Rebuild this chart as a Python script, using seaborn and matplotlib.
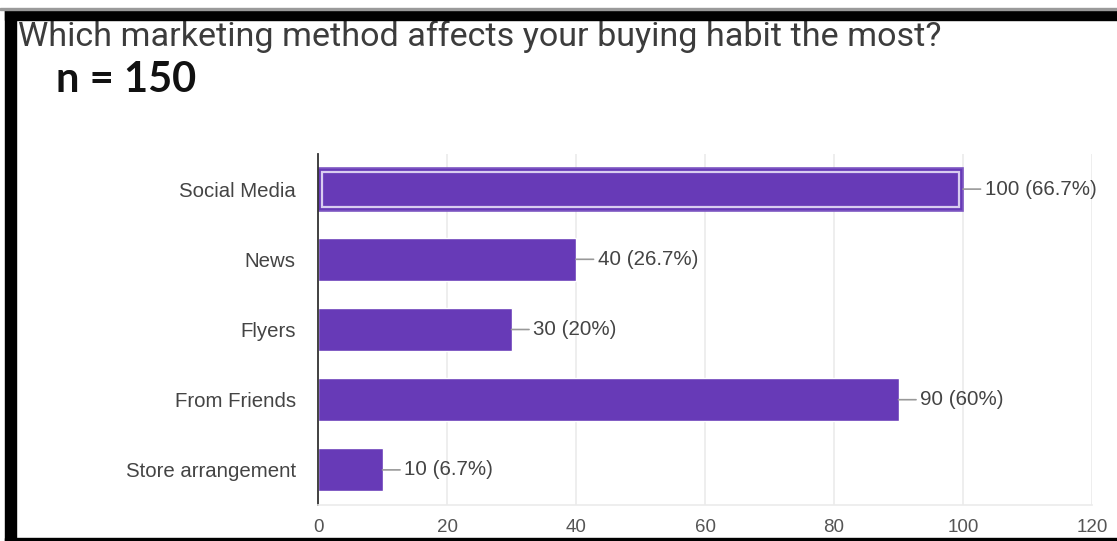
import matplotlib
matplotlib.use("Agg")
import matplotlib.pyplot as plt
import seaborn as sns
import pandas as pd
from matplotlib.patches import Rectangle

categories = ["Social Media", "News", "Flyers", "From Friends", "Store arrangement"]
counts = [100, 40, 30, 90, 10]
percent_labels = ["66.7%", "26.7%", "20%", "60%", "6.7%"]
x_ticks = [0, 20, 40, 60, 80, 100, 120]
title = "Which marketing method affects your buying habit the most?"
subtitle = "n = 150"

sns.set_theme(style="white")
plt.rcParams["font.family"] = ["Liberation Sans", "DejaVu Sans"]

df = pd.DataFrame({"method": categories, "count": counts})

fig = plt.figure(figsize=(11.17, 5.41), dpi=100)
ax = fig.add_axes([318 / 1117, 36 / 541, (1092 - 318) / 1117, (387 - 36) / 541])

sns.barplot(data=df, y="method", x="count", orient="h", color="#673ab7",
            saturation=1, width=0.61, ax=ax, order=categories)

# highlight outline on the first bar (hover state)
p0 = ax.patches[0]
p0.set_edgecolor("#7e57c2")
p0.set_linewidth(1.2)
bx, by = p0.get_x(), p0.get_y()
bw, bh = p0.get_width(), p0.get_height()
ax.add_patch(Rectangle((bx + bw * 0.006, by + bh * 0.09), bw * 0.988, bh * 0.82,
                       fill=False, edgecolor="#d8ccf0", linewidth=1.6, zorder=3))

ax.set_xlim(0, 120)
ax.set_ylim(len(categories) - 0.5, -0.5)
ax.set_xticks(x_ticks)
ax.set_xticklabels([str(t) for t in x_ticks])
ax.grid(axis="x", color="#ebebeb", linewidth=1.2)
ax.set_axisbelow(True)
ax.set_xlabel("")
ax.set_ylabel("")

for side in ["top", "right"]:
    ax.spines[side].set_visible(False)
ax.spines["bottom"].set_color("#ebebeb")
ax.spines["bottom"].set_linewidth(1.2)
ax.spines["left"].set_color("#333333")
ax.spines["left"].set_linewidth(1.3)

ax.tick_params(axis="y", length=0, pad=16, labelsize=14.7, labelcolor="#444444")
ax.tick_params(axis="x", length=0, pad=10, labelsize=13.5, labelcolor="#555555")

for i, (v, pl) in enumerate(zip(counts, percent_labels)):
    ax.annotate(f"{v} ({pl})", xy=(v, i), xytext=(15.5, 0), textcoords="offset points",
                va="center", ha="left", fontsize=14.8, color="#444444",
                arrowprops=dict(arrowstyle="-", color="#999999", lw=1.2,
                                shrinkA=0.5, shrinkB=0),
                annotation_clip=False)

fig.text(18 / 1117, 1 - 46 / 541, title, family=["Roboto", "DejaVu Sans"],
         fontsize=24.6, color="#3c3c3c", va="baseline", ha="left")
fig.text(56 / 1117, 1 - 92 / 541, subtitle, family=["Lato", "DejaVu Sans"],
         fontweight="bold", fontsize=30, color="#111111", va="baseline", ha="left")

# black frame of the screenshot
fig.patches.append(Rectangle((5 / 1117, 1 - 19.5 / 541), 1, 9.5 / 541,
                             transform=fig.transFigure, color="black", zorder=10))
fig.patches.append(Rectangle((5 / 1117, 0), 11 / 1117, 1 - 10 / 541,
                             transform=fig.transFigure, color="black", zorder=10))
fig.patches.append(Rectangle((5 / 1117, 0), 1, 3 / 541,
                             transform=fig.transFigure, color="black", zorder=10))
fig.patches.append(Rectangle((0, 1 - 10 / 541), 1, 1.5 / 541,
                             transform=fig.transFigure, color="#9a9a9a", zorder=10))

fig.savefig("out.png", dpi=100)
